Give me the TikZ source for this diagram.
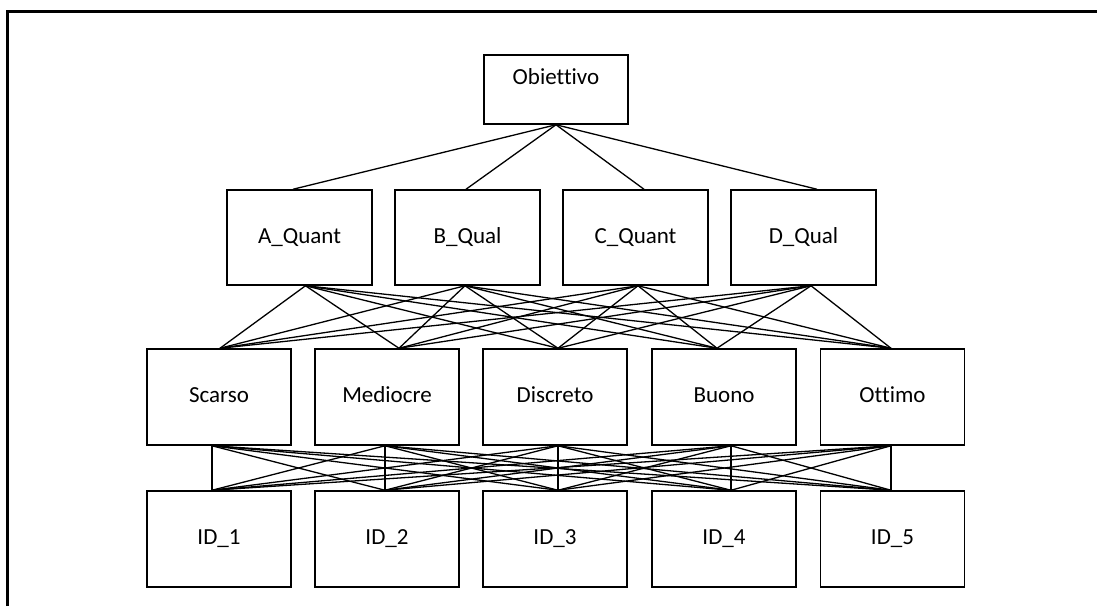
\documentclass[tikz,border=0pt]{standalone}
\usepackage{fontspec}
\setmainfont{Carlito}[Ligatures=NoCommon]
\usetikzlibrary{calc}
\begin{document}
\begin{tikzpicture}[x=1pt,y=-1pt,
  box/.style={draw, line width=1.5pt, minimum width=144pt, minimum height=96pt, inner sep=0pt,
    text height=16pt, text depth=5pt, font=\fontsize{23}{27}\selectfont},
  link/.style={line width=1.3pt},
  frame/.style={line width=2.6pt}]
\useasboundingbox (0,0) rectangle (1097,606);
\draw[frame] (7.5,606) -- (7.5,11.5) -- (1097,11.5);

% level 1
\node[box, minimum height=69pt, text height=16pt, text depth=27pt] (goal) at (556,89.5) {Obiettivo};
\coordinate (goalb) at (goal.south);

% level 2
\foreach \i/\x/\t/\dt/\db in {1/299.5/A\_Quant/-6.5/6, 2/467.5/B\_Qual/-1.5/-2.5, 3/635.5/C\_Quant/8.5/2.5, 4/803.5/D\_Qual/13.5/7.5} {
  \node[box, minimum width=145pt, minimum height=95pt] (m\i) at (\x,237.5) {\t};
  \coordinate (m\i t) at ($(m\i.north)+(\dt,0)$);
  \coordinate (m\i b) at ($(m\i.south)+(\db,0)$);
}

% level 3
\foreach \i/\x/\t/\dt/\db in {1/219/Scarso/1/-7, 2/387/Mediocre/12/-2, 3/555/Discreto/3/3, 4/724/Buono/-7/7, 5/892.5/Ottimo/-1.5/-1.5} {
  \node[box] (s\i) at (\x,397) {\t};
  \coordinate (s\i t) at ($(s\i.north)+(\dt,0)$);
  \coordinate (s\i b) at ($(s\i.south)+(\db,0)$);
}

% level 4
\foreach \i/\x/\dt in {1/219/-7, 2/387/-2, 3/555/3, 4/724/7, 5/892.5/-1.5} {
  \node[box] (d\i) at (\x,539) {ID\_\i};
  \coordinate (d\i t) at ($(d\i.north)+(\dt,0)$);
}

% connectors
\foreach \i in {1,...,4} {
  \draw[link] (goalb) -- (m\i t);
}
\foreach \i in {1,...,4} {
  \foreach \j in {1,...,5} {
    \draw[link] (m\i b) -- (s\j t);
  }
}
\foreach \i in {1,...,5} {
  \foreach \j in {1,...,5} {
    \draw[link] (s\i b) -- (d\j t);
  }
}
\end{tikzpicture}
\end{document}
